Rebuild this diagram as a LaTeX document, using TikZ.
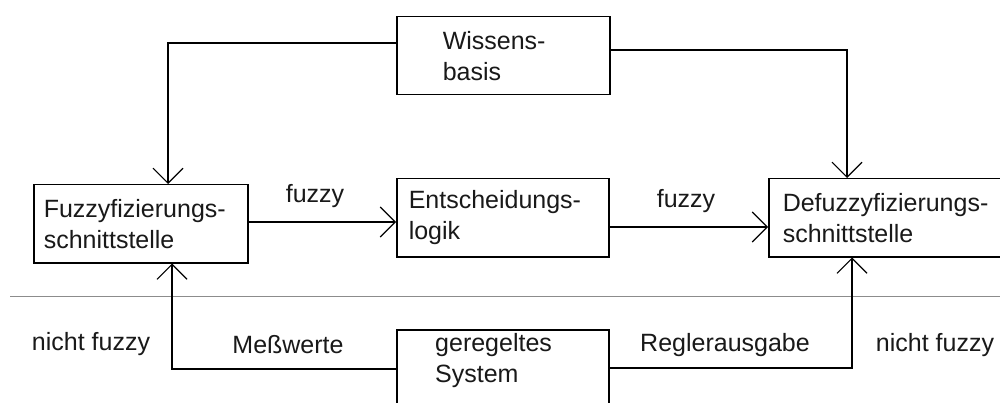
\documentclass[tikz,border=0pt]{standalone}
\usepackage{fontspec}
\setmainfont{Liberation Sans}
\usetikzlibrary{arrows.meta}
\begin{document}
\begin{tikzpicture}[x=1pt,y=-1pt,
  every node/.style={font=\fontsize{25}{31}\selectfont, text=black!90},
  blockbox/.style={draw, line width=1.5pt, anchor=north west, align=left, inner ysep=0pt},
  lab/.style={inner sep=0pt, anchor=center},
  conn/.style={line width=1.3pt},
  arr/.style={conn, -{Straight Barb[length=15pt,width=30pt,line width=1.1pt]}},
  sep/.style={draw=black!45, line width=1pt}]
  \useasboundingbox (0,0) rectangle (1000,403);
  \clip (0,0) rectangle (1000,403);
  \fill[white] (0,0) rectangle (1000,403);

  % blocks
  \node[blockbox, minimum width=213pt, minimum height=78pt, text width=121pt, inner xsep=46pt]
    (wiss) at (396,16) {Wissens-\\basis};
  \node[blockbox, minimum width=214pt, minimum height=78pt, text width=194pt, inner xsep=10pt]
    (fuz) at (33,184) {Fuzzyfizierungs-\\schnittstelle};
  \node[blockbox, minimum width=212pt, minimum height=78pt, text width=188pt, inner xsep=12pt]
    (ent) at (396,178) {Entscheidungs-\\logik};
  \node[blockbox, minimum width=250pt, minimum height=78pt, text width=222pt, inner xsep=14pt]
    (def) at (768,178) {Defuzzyfizierungs-\\schnittstelle};
  \node[blockbox, minimum width=212pt, minimum height=95pt] (sys) at (396,329) {};
  \node[anchor=north west, align=left, inner sep=0pt] (systxt) at (435,333) {geregeltes\\System};

  % boundary between fuzzy and crisp side
  \coordinate (sepL) at (10,296);
  \coordinate (sepR) at (1000,296);
  \draw[sep] (sepL) -- (sepR);

  % connectors
  \draw[arr] (wiss.west |- 0,43) -| (fuz.north -| 168,0);
  \draw[arr] (wiss.east |- 0,50) -| (def.north -| 847,0);
  \draw[arr] (fuz.east |- 0,222) -- (ent.west |- 0,222);
  \draw[arr] (ent.east |- 0,227) -- (def.west |- 0,227);
  \draw[arr] (sys.west |- 0,369) -| (fuz.south -| 172,0);
  \draw[arr] (sys.east |- 0,368) -| (def.south -| 852,0);

  % labels
  \node[lab] (f1) at (315,196) {fuzzy};
  \node[lab] (f2) at (686,201) {fuzzy};
  \node[lab] (nf1) at (91,344) {nicht fuzzy};
  \node[lab] (mw) at (288,345) {Meßwerte};
  \node[lab] (ra) at (725,345) {Reglerausgabe};
  \node[lab] (nf2) at (935,345) {nicht fuzzy};
\end{tikzpicture}
\end{document}
